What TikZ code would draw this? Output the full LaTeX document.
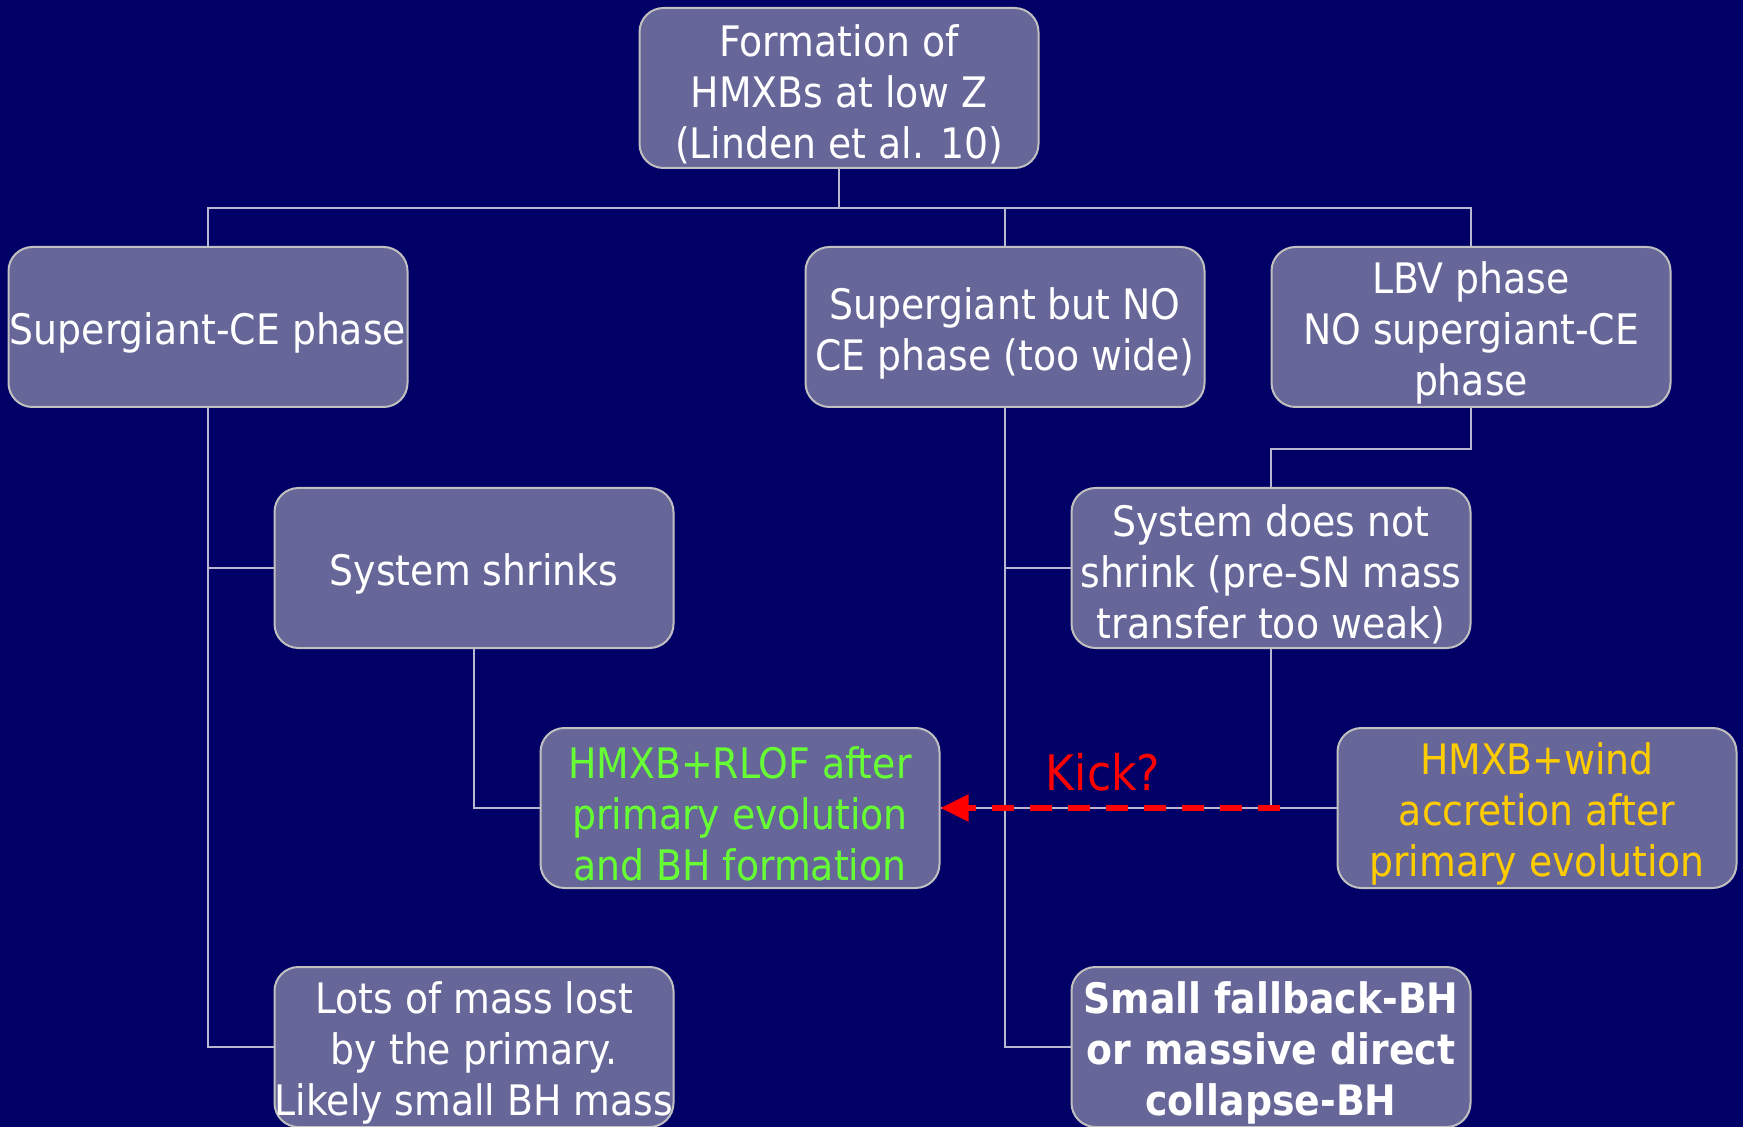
\documentclass[tikz,border=0pt]{standalone}
\usepackage{fontspec}
\setmainfont{DejaVu Sans Condensed}
\usetikzlibrary{arrows.meta}
\definecolor{bg}{HTML}{000066}
\definecolor{boxfill}{HTML}{666699}
\definecolor{boxline}{HTML}{C0C0C0}
\definecolor{lineclr}{HTML}{B8B8D0}
\definecolor{grn}{HTML}{66FF33}
\definecolor{ylw}{HTML}{FFCC00}
\newcommand\mytopstrut{\rule{0pt}{22pt}}
\begin{document}
\begin{tikzpicture}[x=0.5pt,y=-0.5pt,
  box/.style={draw=boxline, line width=1pt, fill=boxfill, rounded corners=12pt,
    minimum width=199.5pt, minimum height=80pt, text=white, align=center,
    font=\fontsize{21}{25.5}\selectfont, inner sep=0pt},
  conn/.style={draw=lineclr, line width=0.6pt},
  kick/.style={draw=red, line width=2.8pt, dash pattern=on 11pt off 8pt,
    -{Triangle[length=14pt,width=13pt]}}]
\fill[bg] (0,0) rectangle (1743,1127);
\useasboundingbox (0,0) rectangle (1743,1127);

\coordinate (bus) at (839,208);
\coordinate (kickstart) at (1280,808);

\node[box] (top) at (839,88) {\mytopstrut Formation of\\HMXBs at low Z\\(Linden et al. 10)};
\node[box] (A) at (208,327) {\mytopstrut Supergiant-CE phase};
\node[box] (B) at (1005,327) {\mytopstrut Supergiant but NO\\CE phase (too wide)};
\node[box] (C) at (1471,327) {\mytopstrut LBV phase\\NO supergiant-CE\\phase};
\node[box] (D) at (474,568) {\mytopstrut System shrinks};
\node[box] (E) at (1271,568) {\mytopstrut System does not\\shrink (pre-SN mass\\transfer too weak)};
\node[box, text=grn] (F) at (740,808) {\mytopstrut HMXB+RLOF after\\primary evolution\\and BH formation};
\node[box, text=ylw] (G) at (1537,808) {\mytopstrut HMXB+wind\\accretion after\\primary evolution};
\node[box] (H) at (474,1047) {\mytopstrut Lots of mass lost\\by the primary.\\Likely small BH mass};
\node[box, font=\fontsize{21}{25.5}\selectfont\bfseries] (I) at (1271,1047) {\mytopstrut Small fallback-BH\\or massive direct\\collapse-BH};

\draw[conn] (top.south) -- (bus);
\draw[conn] (A.north) |- (C.north |- bus) -- (C.north);
\draw[conn] (B.north) -- (B.north |- bus);
\draw[conn] (A.south) |- (H.west);
\draw[conn] (A.south |- D.west) -- (D.west);
\draw[conn] (D.south) |- (F.west);
\draw[conn] (B.south) |- (I.west);
\draw[conn] (B.south |- E.west) -- (E.west);
\draw[conn] (C.south) -- ++(0,41) -| (E.north);
\draw[conn] (E.south) |- (G.west);
\draw[conn] (F.east) -- (G.west);

\draw[kick] (kickstart) -- (F.east);
\node[text=red, font=\fontsize{24.5}{29}\selectfont] (kicklbl) at (1103,772) {Kick?};
\end{tikzpicture}
\end{document}
